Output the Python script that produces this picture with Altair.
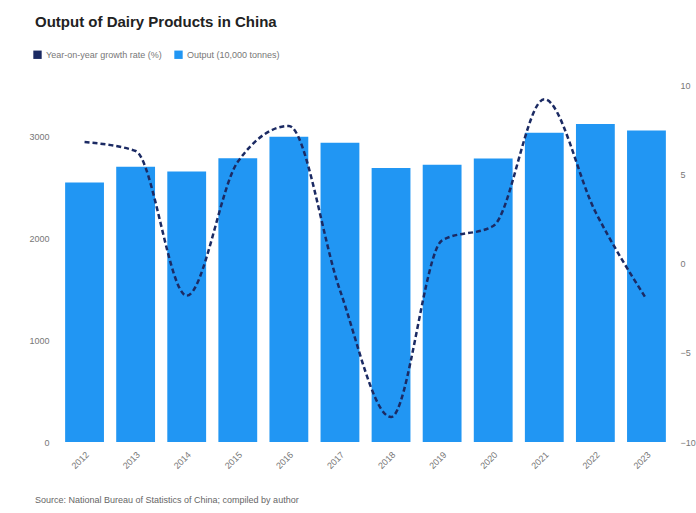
import altair as alt
import pandas as pd

years = ["2012", "2013", "2014", "2015", "2016", "2017", "2018", "2019", "2020", "2021", "2022", "2023"]
output = [2545, 2698, 2652, 2782, 2993, 2935, 2687, 2719, 2780, 3031, 3117, 3054]
growth = [6.8, 6.3, -1.8, 5.7, 7.7, -1.5, -8.6, 1.3, 2.1, 9.2, 2.9, -2.0]

title_text = "Output of Dairy Products in China"
line_label = "Year-on-year growth rate (%)"
bar_label = "Output (10,000 tonnes)"
source_text = "Source: National Bureau of Statistics of China; compiled by author"

NAVY = "#1b2a63"
BLUE = "#2196f3"
FONT = "Liberation Sans"

df = pd.DataFrame({"year": years, "output": output, "growth": growth,
                   "series": [bar_label] * len(years)})

x_enc = alt.X("year:N", sort=years, title=None,
              scale=alt.Scale(paddingInner=0.24, paddingOuter=0.12),
              axis=alt.Axis(labelAngle=-45, labelFontSize=9, labelColor="#777",
                            labelFont=FONT, ticks=False, domain=False, labelPadding=8))

bars = alt.Chart(df).mark_bar(color=BLUE).encode(
    x=x_enc,
    y=alt.Y("output:Q", title=None,
            scale=alt.Scale(domain=[0, 3500], nice=False),
            axis=alt.Axis(values=[0, 1000, 2000, 3000], format="d", grid=False, ticks=False,
                          domain=False, labelFontSize=9, labelColor="#777", labelFont=FONT,
                          labelPadding=10)),
    color=alt.Color("series:N",
                    scale=alt.Scale(domain=[line_label, bar_label], range=[NAVY, BLUE]),
                    legend=alt.Legend(orient="none", legendX=-26, legendY=-35,
                                      direction="horizontal", title=None,
                                      symbolType="square", symbolSize=70,
                                      symbolStrokeWidth=0,
                                      labelFontSize=9, labelColor="#777", labelFont=FONT,
                                      columnPadding=12)),
)

line = alt.Chart(df).mark_line(color=NAVY, strokeWidth=2.5, strokeDash=[5, 3],
                               interpolate="monotone").encode(
    x=alt.X("year:N", sort=years),
    y=alt.Y("growth:Q", title=None,
            scale=alt.Scale(domain=[-10, 10], nice=False),
            axis=alt.Axis(orient="right", values=[-10, -5, 0, 5, 10], grid=False, ticks=False,
                          domain=False, labelFontSize=9, labelColor="#777", labelFont=FONT,
                          labelPadding=8)),
)

title = alt.Chart(pd.DataFrame({"t": [title_text]})).mark_text(
    align="left", baseline="middle", fontSize=15, fontWeight="bold", font=FONT, color="#222"
).encode(text="t:N", x=alt.value(-24), y=alt.value(-63))

source = alt.Chart(pd.DataFrame({"t": [source_text]})).mark_text(
    align="left", baseline="middle", fontSize=9, font=FONT, color="#666"
).encode(text="t:N", x=alt.value(-24), y=alt.value(415))

chart = alt.layer(bars, line, title, source).resolve_scale(y="independent", color="independent").properties(
    width=613, height=357,
    background="white",
    autosize=alt.AutoSizeParams(type="none"),
    padding={"left": 59, "top": 85, "right": 24, "bottom": 71},
).configure_view(strokeWidth=0)

chart.save("out.html", embed_options={"renderer": "svg", "actions": False})
